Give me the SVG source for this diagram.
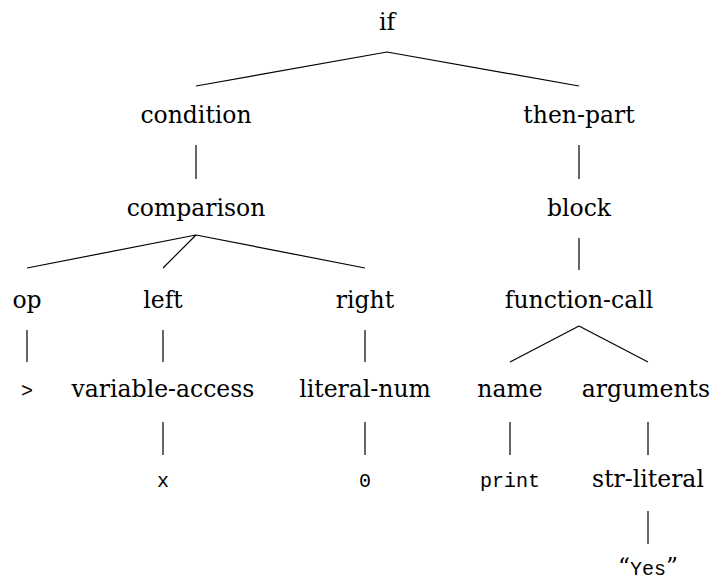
<svg xmlns="http://www.w3.org/2000/svg" width="714" height="581" viewBox="0 0 714 581">
<style>
.m{font-family:"Liberation Mono","DejaVu Sans Mono",monospace;font-size:20px}
.e{stroke:#000;stroke-width:1.2;fill:none}
</style>
<rect width="714" height="581" fill="#fff"/>
<g id="connectors" class="e">
<path d="M387,52 L196,86 M387,52 L579,86"/>
<path d="M196,145 L196,179 M579,145 L579,179"/>
<path d="M196,235 L27,268 M196,235 L163,268 M196,235 L365,268"/>
<path d="M579,238 L579,270"/>
<path d="M27,330 L27,362 M163,330 L163,362 M365,330 L365,362"/>
<path d="M579,326 L510,362 M579,326 L648,362"/>
<path d="M163,422 L163,455 M365,422 L365,455 M510,422 L510,455 M648,422 L648,455"/>
<path d="M648,511 L648,544"/>
</g>
<g font-family="DejaVu Serif, Liberation Serif, Noto Serif, Times New Roman, serif" font-size="23.5" text-anchor="middle" fill="#000">
<g id="n-if"><text x="387" y="30">if</text></g>
<g id="n-condition"><text x="196" y="123">condition</text></g>
<g id="n-then-part"><text x="579" y="123">then-part</text></g>
<g id="n-comparison"><text x="196" y="216">comparison</text></g>
<g id="n-block"><text x="579" y="216">block</text></g>
<g id="n-op"><text x="27" y="308">op</text></g>
<g id="n-left"><text x="163" y="308">left</text></g>
<g id="n-right"><text x="365" y="308">right</text></g>
<g id="n-function-call"><text x="579" y="308">function-call</text></g>
<g id="n-gt"><text class="m" x="27" y="397">&gt;</text></g>
<g id="n-variable-access"><text x="163" y="397">variable-access</text></g>
<g id="n-literal-num"><text x="365" y="397">literal-num</text></g>
<g id="n-name"><text x="510" y="397">name</text></g>
<g id="n-arguments"><text x="646" y="397">arguments</text></g>
<g id="n-x"><text class="m" x="163" y="487">x</text></g>
<g id="n-0"><text class="m" x="365" y="487">0</text></g>
<g id="n-print"><text class="m" x="510" y="487">print</text></g>
<g id="n-str-literal"><text x="648" y="487">str-literal</text></g>
<g id="n-yes"><text x="648" y="575">“<tspan class="m">Yes</tspan>”</text></g>
</g>
</svg>
